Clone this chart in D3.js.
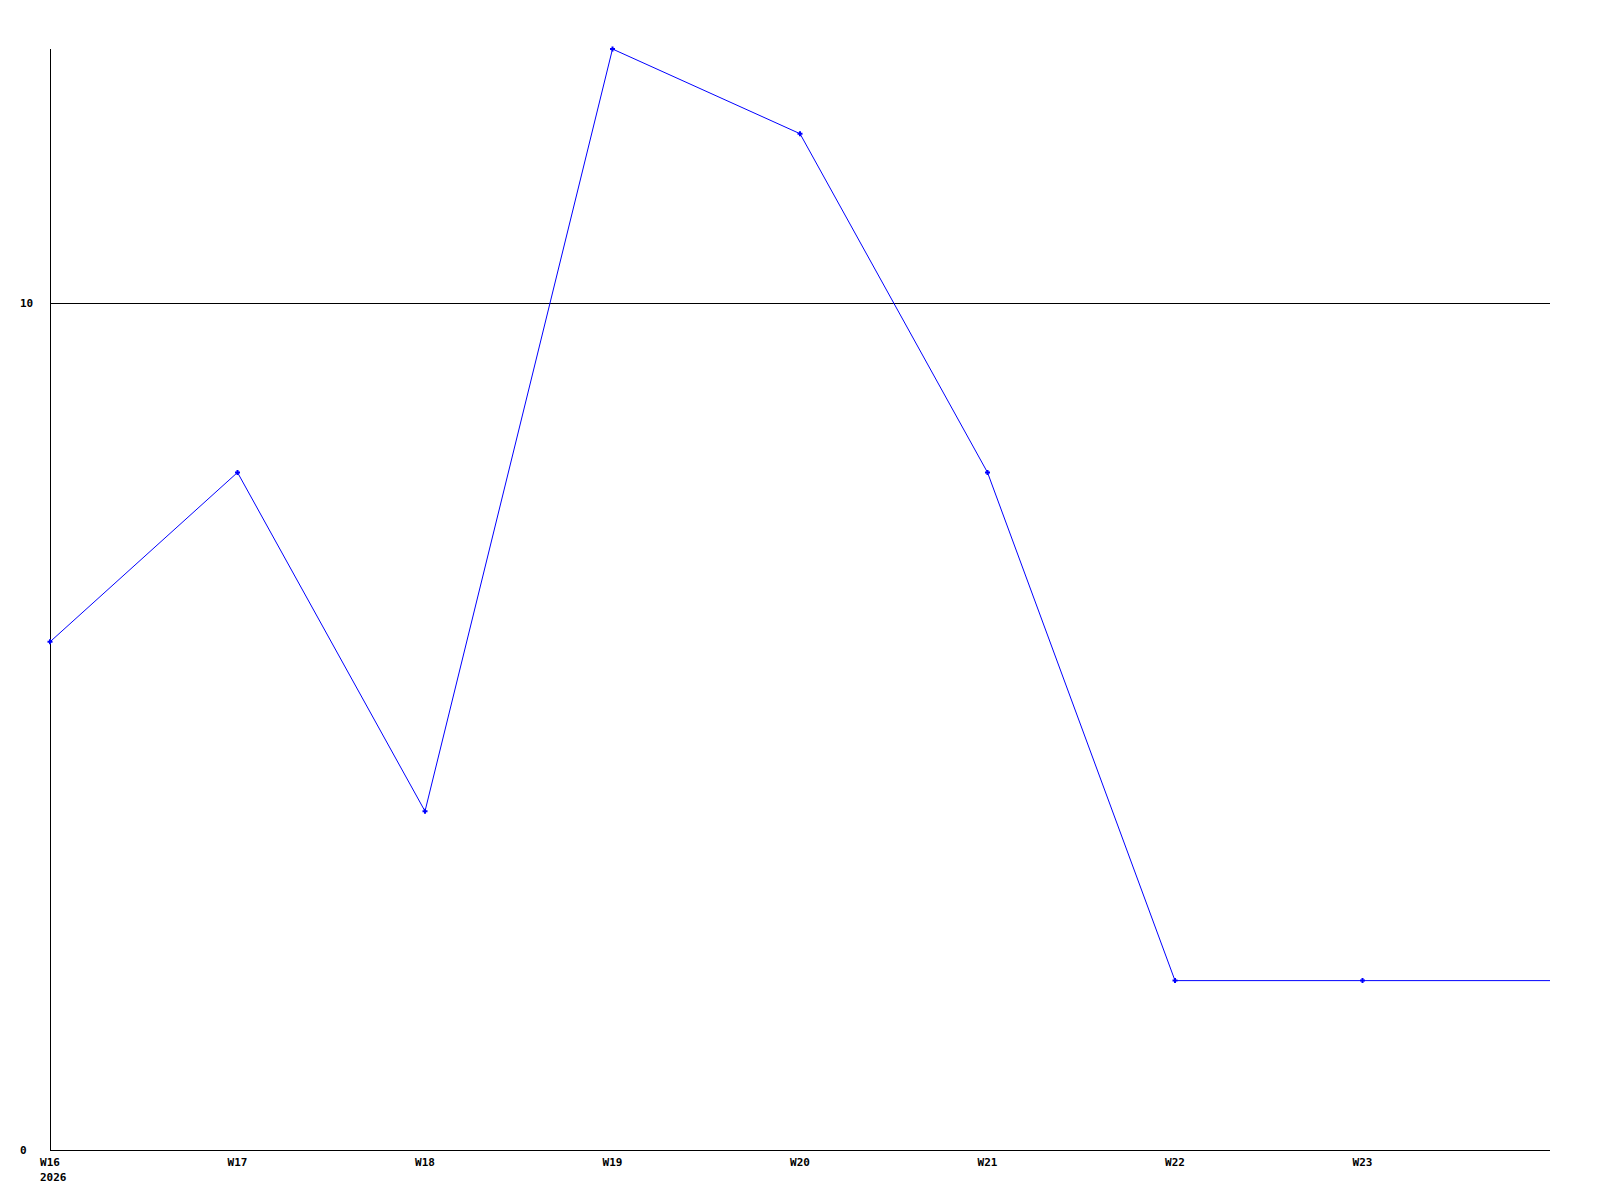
<!DOCTYPE html>
<html><head><meta charset="utf-8">
<script src="https://cdn.jsdelivr.net/npm/d3@7"></script>
<style>body{margin:0;background:#fff}</style>
</head><body>
<svg id="c" width="1600" height="1200"></svg>
<script>
const weeks = ["W16","W17","W18","W19","W20","W21","W22","W23","W24"];
const values = [6, 8, 4, 13, 12, 8, 2, 2, 2];
const yTicks = [0, 10];
const yearLabel = "2026";

const svg = d3.select("#c");
const m = {left:50, right:50, top:49, bottom:50};
const W = 1600, H = 1200;
const x = d3.scalePoint().domain(weeks).range([m.left, W - m.right]);
const y = d3.scaleLinear().domain([0, 13]).range([H - m.bottom, m.top]);
const font = "'DejaVu Sans Mono', monospace";

// grid line at 10
svg.selectAll("line.grid").data(yTicks.filter(d => d > 0)).join("line")
  .attr("x1", m.left).attr("x2", W - m.right)
  .attr("y1", d => Math.round(y(d)) + 0.5).attr("y2", d => Math.round(y(d)) + 0.5)
  .attr("stroke", "#000").attr("stroke-width", 1);

// axes
svg.append("line").attr("x1", m.left + 0.5).attr("x2", m.left + 0.5)
  .attr("y1", m.top).attr("y2", H - m.bottom).attr("stroke", "#000");
svg.append("line").attr("x1", m.left).attr("x2", W - m.right)
  .attr("y1", H - m.bottom + 0.5).attr("y2", H - m.bottom + 0.5).attr("stroke", "#000");

// y labels
svg.selectAll("text.yl").data(yTicks).join("text")
  .attr("x", 20).attr("y", d => y(d) + 4)
  .attr("text-anchor", "start").attr("font-family", font).attr("font-weight", "bold")
  .attr("font-size", 11).text(d => d);

// x labels
svg.selectAll("text.xl").data(weeks.slice(0, -1)).join("text")
  .attr("x", d => x(d)).attr("y", H - m.bottom + 16)
  .attr("text-anchor", "middle").attr("font-family", font).attr("font-weight", "bold")
  .attr("font-size", 11).text(d => d);
svg.append("text").attr("x", x(weeks[0]) - 10).attr("y", H - m.bottom + 31)
  .attr("font-family", font).attr("font-weight", "bold").attr("font-size", 11).text(yearLabel);

// line
const pts = weeks.map((w, i) => [x(w), y(values[i])]);
svg.append("path").attr("d", d3.line()(pts)).attr("fill", "none")
  .attr("stroke", "#0000ff").attr("stroke-width", 1);

// markers
svg.selectAll("path.mk").data(pts.slice(0, -1)).join("path")
  .attr("d", d => `M${d[0]-2.5},${d[1]}H${d[0]+2.5}M${d[0]},${d[1]-2.5}V${d[1]+2.5}`)
  .attr("stroke", "#0000ff").attr("stroke-width", 2);
</script>
</body></html>
